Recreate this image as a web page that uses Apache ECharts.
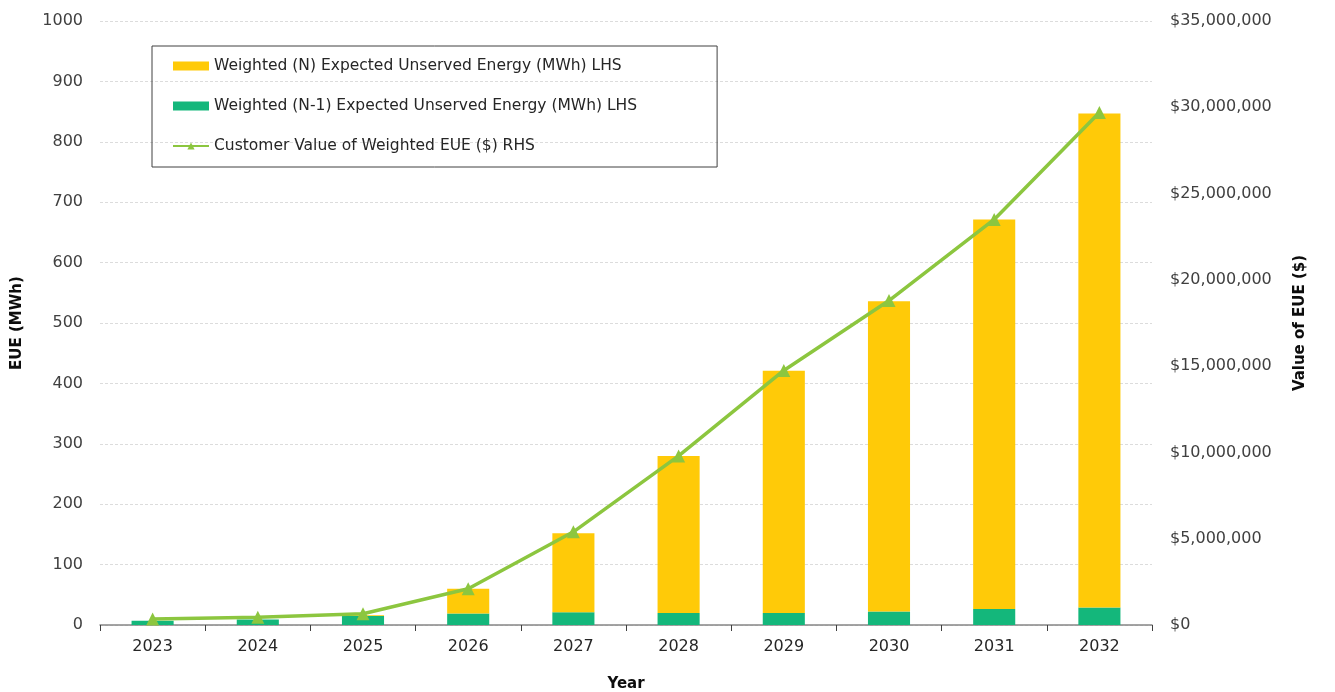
<!DOCTYPE html>
<html>
<head>
<meta charset="utf-8">
<script src="https://cdn.jsdelivr.net/npm/echarts@6/dist/echarts.min.js"></script>
<style>
  html, body { margin: 0; padding: 0; background: #fff; }
  #chart { width: 1335px; height: 692px; }
</style>
</head>
<body>
<div id="chart"></div>
<script>
// ---- data
var years = ['2023', '2024', '2025', '2026', '2027', '2028', '2029', '2030', '2031', '2032'];
var eueN1 = [7, 9, 15, 19, 21, 20, 20, 22.5, 26.5, 29];        // green, bottom
var eueN = [0, 0, 1, 41, 131, 260, 401, 513.5, 645, 818];      // yellow, on top
var valueEUE = [350000, 450000, 650000, 2100000, 5400000, 9800000, 14750000, 18800000, 23500000, 29700000];

var nameN = 'Weighted (N) Expected Unserved Energy (MWh) LHS';
var nameN1 = 'Weighted (N-1) Expected Unserved Energy (MWh) LHS';
var nameVal = 'Customer Value of Weighted EUE ($) RHS';

var font = 'DejaVu Sans';

var chart = echarts.init(document.getElementById('chart'));
var option = {
    animation: false,
    backgroundColor: '#fff',
    textStyle: { fontFamily: font },
    grid: { left: 100, right: 183, top: 21, bottom: 67, containLabel: false, outerBoundsMode: 'none' },
    legend: {
        orient: 'vertical',
        left: 152,
        top: 46,
        padding: [10, 80, 11, 20],
        itemGap: 20,
        itemWidth: 36,
        itemHeight: 9,
        borderColor: '#404040',
        borderWidth: 1,
        textStyle: { fontFamily: font, fontSize: 15.5, color: '#262626', lineHeight: 20 },
        data: [
            { name: nameN, icon: 'rect' },
            { name: nameN1, icon: 'rect' },
            { name: nameVal }
        ]
    },
    xAxis: {
        type: 'category',
        data: years,
        name: 'Year',
        nameLocation: 'middle',
        nameGap: 52,
        nameTextStyle: { fontFamily: font, fontSize: 15, fontWeight: 'bold', color: '#0d0d0d' },
        axisLine: { lineStyle: { color: '#868686', width: 1.5 } },
        axisTick: { show: true, length: 6, lineStyle: { color: '#404040' } },
        axisLabel: { margin: 14, fontSize: 16, color: '#262626' }
    },
    yAxis: [{
        type: 'value',
        min: 0,
        max: 1000,
        interval: 100,
        name: 'EUE (MWh)',
        nameLocation: 'middle',
        nameGap: 75,
        nameTextStyle: { fontFamily: font, fontSize: 15, fontWeight: 'bold', color: '#0d0d0d' },
        axisLine: { show: false },
        axisTick: { show: false },
        axisLabel: {
            margin: 17,
            fontSize: 16,
            color: '#404040',
            formatter: function (val) {
                return String(val);
            }
        },
        splitLine: { show: true, lineStyle: { color: '#dcdcdc', type: [3, 2] } }
    }, {
        type: 'value',
        min: 0,
        max: 35000000,
        interval: 5000000,
        name: 'Value of EUE ($)',
        nameLocation: 'middle',
        nameGap: 141,
        nameTextStyle: { fontFamily: font, fontSize: 15, fontWeight: 'bold', color: '#0d0d0d' },
        axisLine: { show: false },
        axisTick: { show: false },
        splitLine: { show: false },
        axisLabel: {
            margin: 18,
            fontSize: 16,
            color: '#404040',
            formatter: function (val) {
                return '$' + val.toLocaleString('en-US');
            }
        }
    }],
    series: [{
        name: nameN1,
        type: 'bar',
        stack: 'eue',
        barWidth: '40%',
        itemStyle: { color: '#14b77b' },
        data: eueN1
    }, {
        name: nameN,
        type: 'bar',
        stack: 'eue',
        barWidth: '40%',
        itemStyle: { color: '#ffca08' },
        data: eueN
    }, {
        name: nameVal,
        type: 'line',
        yAxisIndex: 1,
        symbol: 'triangle',
        symbolSize: 13,
        lineStyle: { color: '#8cc63f', width: 3.5 },
        itemStyle: { color: '#8cc63f' },
        data: valueEUE
    }]
};
chart.setOption(option);
</script>
</body>
</html>
